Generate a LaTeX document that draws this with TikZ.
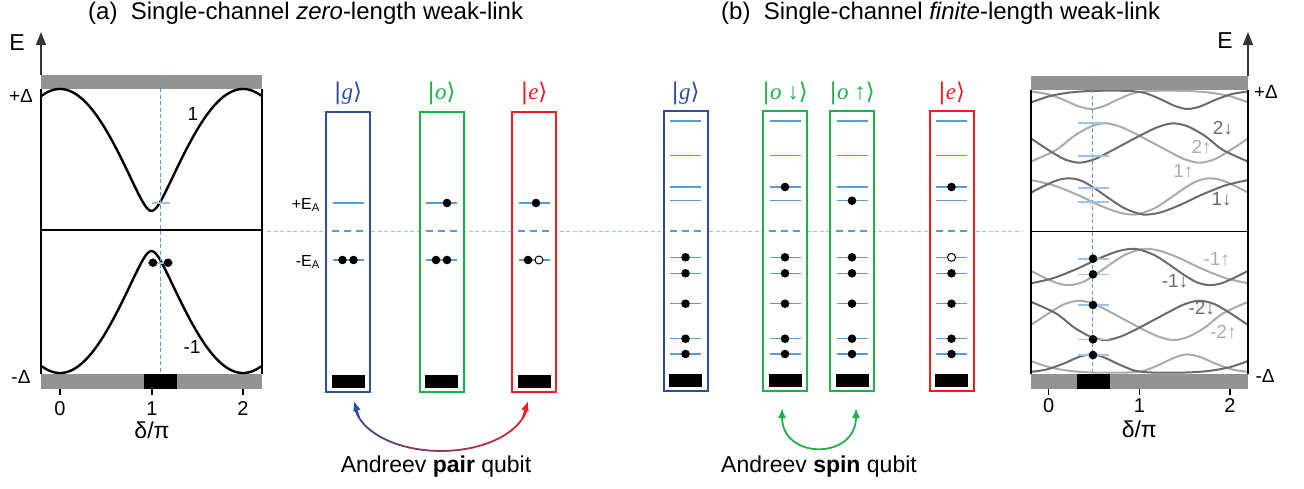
\documentclass[tikz,border=0pt]{standalone}
\usepackage{fontspec}
\setmainfont{Liberation Sans}
\newfontfamily\ketsym{DejaVu Sans}
\newfontfamily\ketlet{Liberation Serif}
\usetikzlibrary{arrows.meta,calc}

\definecolor{bluG}{HTML}{2F4D9E}
\definecolor{verdeO}{HTML}{1DB04B}
\definecolor{rossoE}{HTML}{EE1D24}
\definecolor{bluLiv}{HTML}{5B9BD5}
\definecolor{bluChiaro}{HTML}{9DC3E6}
\definecolor{grigioGap}{HTML}{939393}
\definecolor{grigioScuro}{HTML}{6B6B6B}
\definecolor{grigioChiaro}{HTML}{ABABAB}

\newcommand{\statoket}[1]{{\ketsym|}{\ketlet\itshape #1}{\ketsym⟩}}

% rami spin giu, meta superiore (gli altri per simmetria)
\newcommand{\bandeGiu}{%
  \draw[ramo] plot[smooth] coordinates {(1030.7,102.5) (1050,96) (1070,92.5) (1090,91) (1110,90.7) (1130,91) (1145,93) (1160,99) (1175,106) (1187,109) (1200,106.5) (1215,100) (1232,94) (1248.3,91.5)};
  \draw[ramo] plot[smooth] coordinates {(1030.7,138.3) (1050,151) (1065,159.5) (1080,162.7) (1095,159) (1110,151.5) (1126,143) (1142,134.5) (1158,127) (1173,123.3) (1188,126.5) (1205,136) (1223,150) (1248.3,161.7)};
  \draw[ramo] plot[smooth] coordinates {(1030.7,192.7) (1045,185.5) (1058,180) (1070,178.3) (1082,181) (1095,188.5) (1110,199) (1125,208.5) (1143,214.5) (1160,212.5) (1180,205) (1200,195.5) (1225,185.5) (1248.3,180)};
}

\begin{document}
\begin{tikzpicture}[x=1pt, y=-1pt]
    % Stili
    \tikzstyle{stato}=[rectangle, draw, fill=white, line width=2pt, minimum width=44pt, minimum height=280pt, inner sep=0pt]
    \tikzstyle{barra}=[rectangle, fill=black, minimum width=33pt, minimum height=13pt, inner sep=0pt]
    \tikzstyle{pieno}=[circle, fill=black, minimum size=8.6pt, inner sep=0pt]
    \tikzstyle{vuoto}=[circle, draw=black, fill=white, line width=1pt, minimum size=8pt, inner sep=0pt]
    \tikzstyle{livello}=[bluLiv, line width=1.3pt]
    \tikzstyle{tacca}=[bluChiaro, line width=1.6pt]
    \tikzstyle{zeroE}=[bluLiv, line width=2pt, dash pattern=on 7pt off 5pt]
    \tikzstyle{guida}=[bluLiv, line width=0.9pt, dash pattern=on 4pt off 2.5pt]
    \tikzstyle{cornice}=[black, line width=1.5pt]
    \tikzstyle{asse}=[black!80, line width=1.3pt, -{Triangle[length=13pt,width=10pt]}]
    \tikzstyle{ramo}=[line width=2pt]
    \tikzstyle{andreev}=[black, line width=2.4pt]
    \tikzstyle{titolo}=[font=\fontsize{24}{28}\selectfont, inner sep=0pt]
    \tikzstyle{etich}=[font=\fontsize{19}{22}\selectfont, inner sep=0pt]
    \tikzstyle{grande}=[font=\fontsize{23}{26}\selectfont, inner sep=0pt]
    \tikzstyle{num}=[font=\fontsize{20}{22}\selectfont, inner sep=0pt]
    \tikzstyle{ket}=[font=\fontsize{23}{26}\selectfont, inner sep=0pt]
    \tikzstyle{ea}=[font=\fontsize{16}{18}\selectfont, inner sep=0pt]
    \tikzstyle{qubit}=[-{Latex[length=10pt,width=8pt]}, line width=1.8pt]

    \useasboundingbox (0,0) rectangle (1304,488);

    % Titoli
    \node[titolo, anchor=west] (titA) at (88,13) {(a)~ Single-channel \textit{zero}-length weak-link};
    \node[titolo, anchor=west] (titB) at (721,13) {(b)~ Single-channel \textit{finite}-length weak-link};

    % Pannello (a)
    \fill[grigioGap] (41,75) rectangle (262,89);
    \fill[grigioGap] (41,374) rectangle (262,389);
    \fill[black] (144,374) rectangle (177,389);
    \draw[cornice] (41,89) -- (41,374) (262,89) -- (262,374) (41,230) -- (262,230);
    \draw[asse] (41,75) -- (41,32);
    \node[grande] (Ea) at (17,43) {E};
    \node[etich] (gapSa) at (21,96) {+Δ};
    \node[etich] (gapIa) at (21,377) {-Δ};
    \foreach \t/\u in {60/0,152/1,243/2} {
        \draw[cornice] (\t,389) -- (\t,395);
        \node[num] (tA\u) at (\t,409) {\u};
    }
    \node[grande] (faseA) at (152,430) {δ/π};
    \draw[andreev] plot[domain=-0.2:2.2, samples=181] ({60+91.5*\x}, {231-142*sqrt(1-0.98*pow(sin(90*\x),2))});
    \draw[andreev] plot[domain=-0.2:2.2, samples=181] ({60+91.5*\x}, {231+142*sqrt(1-0.98*pow(sin(90*\x),2))});
    \draw[guida] (160.7,75) -- (160.7,374);
    \draw[tacca] (152,203) -- (170,203);
    \draw[tacca] (148,262.7) -- (173,262.7);
    \node[pieno] (dA1) at (153,262.7) {};
    \node[pieno] (dA2) at (168,262.7) {};
    \node[etich] (ramoA1) at (193,113.5) {1};
    \node[etich] (ramoA2) at (192,346.5) {-1};

    % Linea di riferimento E=0
    \draw[guida, bluChiaro] (267,231) -- (1022,231);

    % Stati (a)
    \node[stato, draw=bluG] (boxGa) at (348,252) {};
    \node[stato, draw=verdeO] (boxOa) at (441.5,252) {};
    \node[stato, draw=rossoE] (boxEa) at (534,252) {};
    \node[ket, text=bluG] (ketGa) at (348,93) {\statoket{g}};
    \node[ket, text=verdeO] (ketOa) at (441.5,93) {\statoket{o}};
    \node[ket, text=rossoE] (ketEa) at (534,93) {\statoket{e}};
    \node[ea, anchor=east] (EAp) at (320,205) {+E\textsubscript{A}};
    \node[ea, anchor=east] (EAm) at (320,262) {-E\textsubscript{A}};
    \foreach \xc in {348,441.5,534} {
        \draw[livello] (\xc-15.5,203) -- (\xc+15.5,203);
        \draw[livello] (\xc-15.5,260) -- (\xc+15.5,260);
        \draw[zeroE] (\xc-16,231) -- (\xc+17,231);
    }
    \node[pieno] (dGa1) at (342.5,260) {};
    \node[pieno] (dGa2) at (353.5,260) {};
    \node[pieno] (dOa1) at (436,260) {};
    \node[pieno] (dOa2) at (447,260) {};
    \node[pieno] (dOa3) at (447,203) {};
    \node[pieno] (dEa1) at (528,260) {};
    \node[vuoto] (dEa2) at (539,260) {};
    \node[pieno] (dEa3) at (536,203) {};
    \node[barra] (bGa) at ($(boxGa.south)+(0,-12)$) {};
    \node[barra] (bOa) at ($(boxOa.south)+(0,-12)$) {};
    \node[barra] (bEa) at ($(boxEa.south)+(0,-12)$) {};

    % Stati (b)
    \node[stato, draw=bluG] (boxGb) at (685.5,251) {};
    \node[stato, draw=verdeO] (boxOd) at (785,251) {};
    \node[stato, draw=verdeO] (boxOu) at (852,251) {};
    \node[stato, draw=rossoE] (boxEb) at (951.5,251) {};
    \node[ket, text=bluG] (ketGb) at (685.5,93) {\statoket{g}};
    \node[ket, text=verdeO] (ketOd) at (785,93) {\statoket{o ↓}};
    \node[ket, text=verdeO] (ketOu) at (852,93) {\statoket{o ↑}};
    \node[ket, text=rossoE] (ketEb) at (951.5,93) {\statoket{e}};
    \foreach \xc/\bn in {685.5/Gb,785/Od,852/Ou,951.5/Eb} {
        \foreach \yl in {121,155.7,187,200.7,257.3,273.3,303.7,338.7,354}
            \draw[livello] (\xc-15.5,\yl) -- (\xc+15.5,\yl);
        \draw[zeroE] (\xc-16,231) -- (\xc+16,231);
        \foreach \yl [count=\k] in {273.3,303.7,338.7,354}
            \node[pieno] (d\bn\k) at (\xc,\yl) {};
    }
    \node[pieno] (dGb0) at (685.5,257.3) {};
    \node[pieno] (dOd0) at (785,257.3) {};
    \node[pieno] (dOu0) at (852,257.3) {};
    \node[vuoto] (dEb0) at (951.5,257.3) {};
    \node[pieno] (dOdS) at (785,187) {};
    \node[pieno] (dOuS) at (852,200.7) {};
    \node[pieno] (dEbS) at (951.5,187) {};
    \node[barra] (bGb) at ($(boxGb.south)+(0,-12)$) {};
    \node[barra] (bOd) at ($(boxOd.south)+(0,-12)$) {};
    \node[barra] (bOu) at ($(boxOu.south)+(0,-12)$) {};
    \node[barra] (bEb) at ($(boxEb.south)+(0,-12)$) {};

    % Pannello (b): rami di Andreev con spin
    \begin{scope}
        \clip (1031,90) rectangle (1248,374);
        \begin{scope}[grigioChiaro, shift={(2279,0)}, xscale=-1] \bandeGiu \end{scope}
        \begin{scope}[grigioChiaro, shift={(0,463.4)}, yscale=-1] \bandeGiu \end{scope}
        \begin{scope}[grigioScuro] \bandeGiu \end{scope}
        \begin{scope}[grigioScuro, shift={(2279,463.4)}, scale=-1] \bandeGiu \end{scope}
    \end{scope}
    \fill[grigioGap] (1031,76) rectangle (1248,90);
    \fill[grigioGap] (1031,374) rectangle (1248,389);
    \fill[black] (1077,374) rectangle (1110,389);
    \draw[cornice] (1031,90) -- (1031,374) (1248,90) -- (1248,374) (1031,231.7) -- (1248,231.7);
    \draw[asse] (1248,76) -- (1248,32);
    \node[grande] (Eb) at (1225,41) {E};
    \node[etich] (gapSb) at (1266,91.5) {+Δ};
    \node[etich] (gapIb) at (1265,376) {-Δ};
    \foreach \t/\u in {1048.7/0,1139.3/1,1230/2} {
        \draw[cornice] (\t,389) -- (\t,395);
        \node[num] (tB\u) at (\t,406) {\u};
    }
    \node[grande] (faseB) at (1139.3,429) {δ/π};
    \draw[guida] (1092.7,76) -- (1092.7,374);
    \foreach \yl in {122.7,156,188,201.7,258.7,274.3,305,339.3,355}
        \draw[tacca] (1078,\yl) -- (1109,\yl);
    \foreach \yl [count=\k] in {258.7,274.3,305,339.3,355}
        \node[pieno] (dB\k) at (1093,\yl) {};
    \node[etich, text=grigioScuro] (r2d) at (1223,128) {2↓};
    \node[etich, text=grigioChiaro] (r2u) at (1201.7,146.7) {2↑};
    \node[etich, text=grigioChiaro] (r1u) at (1183.3,171.7) {1↑};
    \node[etich, text=grigioScuro] (r1d) at (1221.7,199.3) {1↓};
    \node[etich, text=grigioChiaro] (rm1u) at (1216.7,259.3) {-1↑};
    \node[etich, text=grigioScuro] (rm1d) at (1175,281.7) {-1↓};
    \node[etich, text=grigioScuro] (rm2d) at (1201.7,308.3) {-2↓};
    \node[etich, text=grigioChiaro] (rm2u) at (1223.3,331.7) {-2↑};

    % Qubit di coppia (sfumato) e di spin
    \coordinate (pairC) at ($(boxGa.south)!0.5!(boxEa.south)+(0,8)$);
    \foreach \i in {0,...,40} {
        \pgfmathsetmacro\ta{172-4*\i}
        \pgfmathsetmacro\tb{172-4*(\i+1)}
        \pgfmathsetmacro\mx{100-100*\i/40}
        \draw[line width=1.8pt, line cap=round, bluG!\mx!rossoE] ($(pairC)+(\ta:87 and 50)$) -- ($(pairC)+(\tb:87 and 50)$);
    }
    \draw[qubit, bluG] ($(pairC)+(160:87 and 50)$) -- ($(pairC)+(180:87 and 50)$);
    \draw[qubit, rossoE] ($(pairC)+(20:87 and 50)$) -- ($(pairC)+(0:87 and 50)$);
    \draw[qubit, {Latex[length=10pt,width=8pt]}-{Latex[length=10pt,width=8pt]}, verdeO] ($(boxOd.south)+(-3,16)$) .. controls +(0,52) and +(0,52) .. ($(boxOu.south)+(4,16)$);
    \node[grande] (pairQ) at (436,467) {Andreev \textbf{pair} qubit};
    \node[grande] (spinQ) at (819,467) {Andreev \textbf{spin} qubit};
\end{tikzpicture}
\end{document}
